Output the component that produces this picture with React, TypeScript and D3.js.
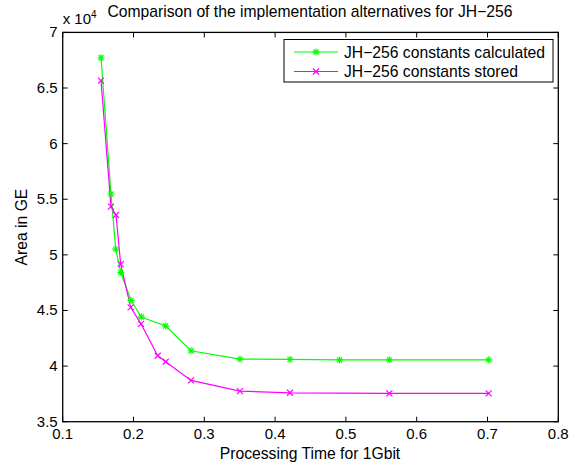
import React from "react";
import * as d3 from "d3";

const xTicks = [0.1, 0.2, 0.3, 0.4, 0.5, 0.6, 0.7, 0.8];
const yTicks = [3.5, 4, 4.5, 5, 5.5, 6, 6.5, 7];

const calcX = [0.1541, 0.1682, 0.1749, 0.1819, 0.1965, 0.211, 0.2455, 0.2812, 0.3504, 0.421, 0.491, 0.5613, 0.7017];
const calcY = [67720, 55470, 50520, 48430, 45910, 44410, 43600, 41380, 40630, 40600, 40550, 40560, 40560];

const storX = [0.1541, 0.1682, 0.1753, 0.1819, 0.196, 0.2106, 0.2342, 0.2455, 0.2812, 0.3504, 0.421, 0.5613, 0.7017];
const storY = [65670, 54330, 53580, 49170, 45280, 43800, 40930, 40390, 38710, 37750, 37600, 37540, 37540];

const W = 569, H = 465;
const L = 62.7, R = 558.3, T = 32.4, B = 421.7;
const FONT = "Liberation Sans, Arial, sans-serif";

export default function App() {
  const x = d3.scaleLinear().domain([0.1, 0.8]).range([L, R]);
  const y = d3.scaleLinear().domain([35000, 70000]).range([B, T]);
  const line = d3.line<number>().x((d) => d[0]).y((d) => d[1]);
  const calc = calcX.map((v, i) => [x(v), y(calcY[i])] as [number, number]);
  const stor = storX.map((v, i) => [x(v), y(storY[i])] as [number, number]);
  const green = "#00ff00", magenta = "#ff00ff";
  const star = (cx: number, cy: number, k: string, c: string) => {
    const s = 3.5, d = 2.5;
    return (
      <g key={k} stroke={c} strokeWidth={1.2}>
        <line x1={cx - s} y1={cy} x2={cx + s} y2={cy} />
        <line x1={cx} y1={cy - s} x2={cx} y2={cy + s} />
        <line x1={cx - d} y1={cy - d} x2={cx + d} y2={cy + d} />
        <line x1={cx - d} y1={cy + d} x2={cx + d} y2={cy - d} />
      </g>
    );
  };
  const cross = (cx: number, cy: number, k: string, c: string) => {
    const d = 3;
    return (
      <g key={k} stroke={c} strokeWidth={1.2}>
        <line x1={cx - d} y1={cy - d} x2={cx + d} y2={cy + d} />
        <line x1={cx - d} y1={cy + d} x2={cx + d} y2={cy - d} />
      </g>
    );
  };
  const tl = 5;
  const fs = 15;
  const fs2 = 15.7;
  return (
    <svg width={W} height={H} style={{ position: "absolute", left: 0, top: 0, background: "#fff" }} fontFamily={FONT}>
      <rect x={0} y={0} width={W} height={H} fill="#fff" />
      <g clipPath="url(#clip)">
        <path d={line(calc) || ""} fill="none" stroke={green} strokeWidth={1.2} />
        <path d={line(stor) || ""} fill="none" stroke={magenta} strokeWidth={1.2} />
        {calc.map((p, i) => star(p[0], p[1], "c" + i, green))}
        {stor.map((p, i) => cross(p[0], p[1], "s" + i, magenta))}
      </g>
      <rect x={L} y={T} width={R - L} height={B - T} fill="none" stroke="#000" strokeWidth={1.3} />
      {xTicks.map((t) => (
        <g key={"x" + t}>
          <line x1={x(t)} x2={x(t)} y1={B} y2={B - tl} stroke="#000" />
          <line x1={x(t)} x2={x(t)} y1={T} y2={T + tl} stroke="#000" />
          <text x={x(t)} y={B + 17} fontSize={fs} textAnchor="middle">{String(t)}</text>
        </g>
      ))}
      {yTicks.map((t) => (
        <g key={"y" + t}>
          <line x1={L} x2={L + tl} y1={y(t * 10000)} y2={y(t * 10000)} stroke="#000" />
          <line x1={R} x2={R - tl} y1={y(t * 10000)} y2={y(t * 10000)} stroke="#000" />
          <text x={L - 5} y={y(t * 10000) + 5} fontSize={fs} textAnchor="end">{String(t)}</text>
        </g>
      ))}
      <text x={L} y={24} fontSize={fs}>x 10<tspan fontSize={10} dy={-6}>4</tspan></text>
      <text x={310} y={17} fontSize={fs2} textAnchor="middle">Comparison of the implementation alternatives for JH−256</text>
      <text x={310} y={459} fontSize={fs2} textAnchor="middle">Processing Time for 1Gbit</text>
      <text transform={`translate(27,${(T + B) / 2}) rotate(-90)`} fontSize={fs2} textAnchor="middle">Area in GE</text>
      <g>
        <rect x={284} y={39.5} width={269} height={42.5} fill="#fff" stroke="#000" strokeWidth={1} />
        <line x1={294} x2={338} y1={52} y2={52} stroke={green} strokeWidth={1.2} />
        {star(316, 52, "l1", green)}
        <text x={344} y={57.5} fontSize={fs2}>JH−256 constants calculated</text>
        <line x1={294} x2={338} y1={71.5} y2={71.5} stroke={magenta} strokeWidth={1.2} />
        {cross(316, 71.5, "l2", magenta)}
        <text x={344} y={77} fontSize={fs2}>JH−256 constants stored</text>
      </g>
      <defs>
        <clipPath id="clip"><rect x={L} y={T} width={R - L} height={B - T} /></clipPath>
      </defs>
    </svg>
  );
}
